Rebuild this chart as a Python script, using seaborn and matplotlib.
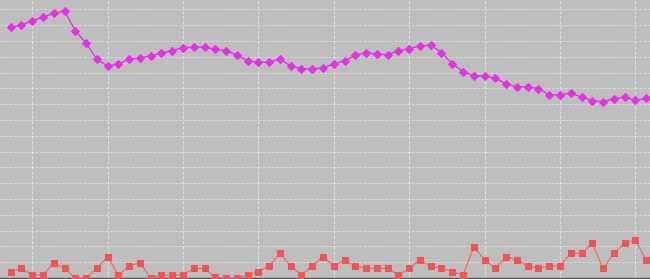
import numpy as np
import pandas as pd
import matplotlib
matplotlib.use("Agg")
import matplotlib.pyplot as plt
import seaborn as sns

# x index (days)
days = list(range(60))

magenta_vals = [158.7, 160.1, 162.8, 165.0, 167.5, 169.0, 156.3, 148.7, 138.4, 134.2,
                135.3, 138.6, 139.1, 140.7, 142.2, 143.9, 145.8, 146.0, 146.3, 144.6,
                143.9, 141.1, 137.5, 136.5, 136.7, 138.6, 134.2, 132.5, 132.1, 133.1,
                135.3, 137.5, 140.9, 142.6, 141.6, 141.3, 143.7, 145.1, 146.8, 147.3,
                142.6, 135.6, 130.6, 128.0, 127.7, 126.4, 122.8, 120.9, 121.1, 119.8,
                116.0, 116.0, 116.9, 114.6, 112.2, 111.6, 113.5, 114.4, 112.5, 113.7]

red_vals = [4.0, 6.1, 1.9, 1.9, 9.7, 6.1, 0.0, 0.0, 6.1, 13.5,
            1.9, 7.6, 9.7, 0.0, 1.9, 1.9, 1.9, 6.1, 6.1, 0.4,
            0.0, 0.0, 1.9, 4.0, 7.6, 15.6, 7.6, 1.9, 7.6, 13.5,
            7.6, 11.4, 7.6, 6.1, 6.1, 6.1, 1.9, 6.1, 11.4, 7.6,
            6.1, 4.0, 1.9, 19.8, 11.4, 6.1, 13.5, 11.4, 7.6, 6.1,
            7.6, 7.6, 15.6, 15.6, 22.0, 6.1, 15.6, 22.0, 24.1, 11.4]

df = pd.DataFrame({"day": days, "magenta": magenta_vals, "red": red_vals})

fig = plt.figure(figsize=(6.5, 2.79), dpi=100)
ax = fig.add_axes([0, 0, 1, 1])
ax.set_facecolor("#bebebe")
fig.patch.set_facecolor("#bebebe")

# grid
for gx in range(2, 60, 7):
    ax.axvline(gx, color="white", lw=0.8, ls=(0, (3, 1.5)), alpha=0.5, zorder=0)
for gy in range(10, 180, 10):
    ax.axhline(gy, color="white", lw=0.7, ls=(0, (3, 1.5)), alpha=0.4, zorder=0)

sns.lineplot(data=df, x="day", y="magenta", ax=ax, color="#d040d0", lw=1.0,
             marker="D", markersize=4.3, markerfacecolor="#e82ee8",
             markeredgecolor="#e82ee8", zorder=3)
sns.lineplot(data=df, x="day", y="red", ax=ax, color="#e07878", lw=1.0,
             marker="s", markersize=3.8, markerfacecolor="#f05555",
             markeredgecolor="#f05555", zorder=3)

ax.axhline(0, color="#555555", lw=1.0, zorder=2)

ax.set_xlim(-0.993, 59.36)
ax.set_ylim(-0.63, 175.9)
ax.set_xlabel("")
ax.set_ylabel("")
ax.set_xticks([])
ax.set_yticks([])
for s in ax.spines.values():
    s.set_visible(False)

fig.savefig("out.png", dpi=100, facecolor=fig.get_facecolor())
